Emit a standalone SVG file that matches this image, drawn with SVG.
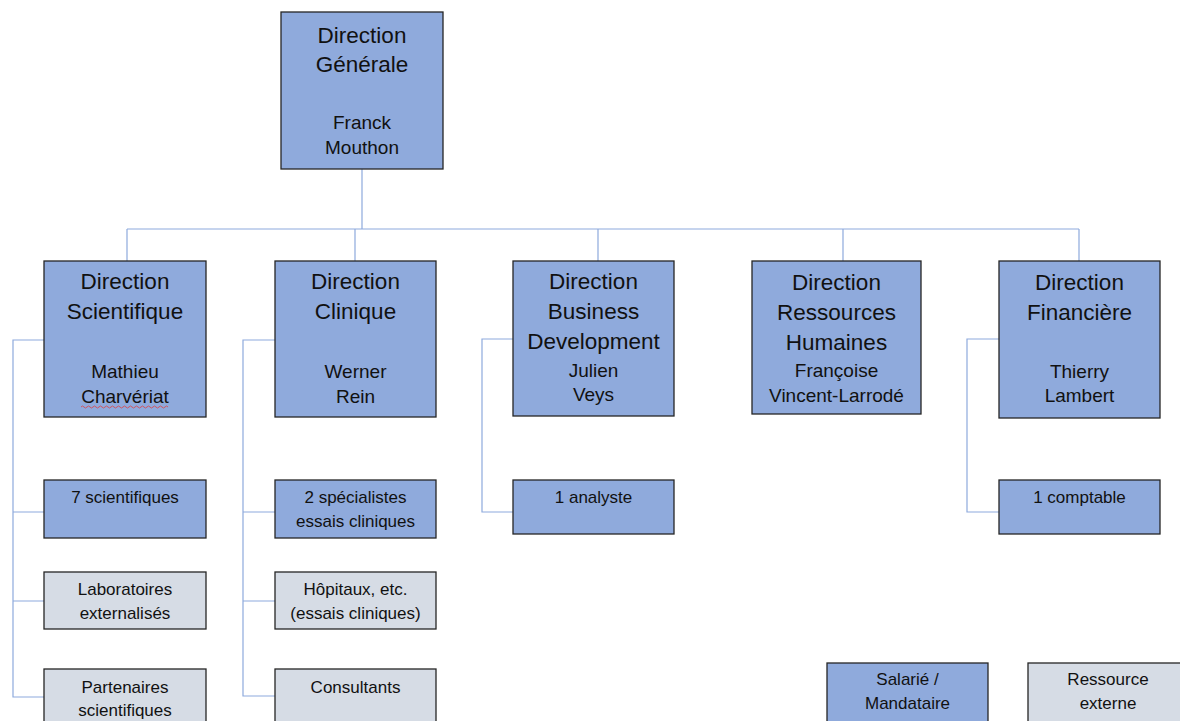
<svg xmlns="http://www.w3.org/2000/svg" width="1180" height="721" viewBox="0 0 1180 721">
<style>
.emp{fill:#8faadc;stroke:#262626;stroke-width:1.3}
.ext{fill:#d6dce5;stroke:#262626;stroke-width:1.3}
text{font-family:"Liberation Sans",Arial,sans-serif;fill:#111;text-anchor:middle}
.t{font-size:22.5px}
.n{font-size:19px}
.s{font-size:17px}
.c{fill:none;stroke:#8eaadd;stroke-width:1.2}
</style>
<rect width="1180" height="721" fill="#fff"/>
<g id="connectors" class="c">
<path d="M362 169V229M127 229H1079M127 229V261M355 229V261M598 229V261M843 229V261M1079 229V261"/>
<path d="M44 340H13V697H44M13 512H44M13 601H44"/>
<path d="M275 340H243V696H275M243 512H275M243 601H275"/>
<path d="M513 339H482V512H513"/>
<path d="M999 339H967V512H999"/>
</g>
<g id="dg"><rect class="emp" x="281" y="12" width="162" height="157"/>
<text class="t" x="362" y="43">Direction</text><text class="t" x="362" y="72">Générale</text>
<text class="n" x="362" y="129">Franck</text><text class="n" x="362" y="154">Mouthon</text></g>
<g id="ds"><rect class="emp" x="44" y="261" width="162" height="156"/>
<text class="t" x="125" y="289">Direction</text><text class="t" x="125" y="319">Scientifique</text>
<text class="n" x="125" y="378">Mathieu</text><text class="n" x="125" y="403">Charvériat</text>
<path d="M81 407q1.5-2 3 0t3 0t3 0t3 0t3 0t3 0t3 0t3 0t3 0t3 0t3 0t3 0t3 0t3 0t3 0t3 0t3 0t3 0t3 0t3 0t3 0t3 0t3 0t3 0t3 0t3 0t3 0t3 0t3 0" fill="none" stroke="#e04040" stroke-width="0.8"/></g>
<g id="dc"><rect class="emp" x="275" y="261" width="161" height="156"/>
<text class="t" x="355.5" y="289">Direction</text><text class="t" x="355.5" y="319">Clinique</text>
<text class="n" x="355.5" y="378">Werner</text><text class="n" x="355.5" y="403">Rein</text></g>
<g id="dbd"><rect class="emp" x="513" y="261" width="161" height="155"/>
<text class="t" x="593.5" y="289">Direction</text><text class="t" x="593.5" y="319">Business</text><text class="t" x="593.5" y="349">Development</text>
<text class="n" x="593.5" y="377">Julien</text><text class="n" x="593.5" y="401">Veys</text></g>
<g id="drh"><rect class="emp" x="752" y="261" width="169" height="153"/>
<text class="t" x="836.5" y="290">Direction</text><text class="t" x="836.5" y="320">Ressources</text><text class="t" x="836.5" y="350">Humaines</text>
<text class="n" x="836.5" y="377">Françoise</text><text class="n" x="836.5" y="402">Vincent-Larrodé</text></g>
<g id="df"><rect class="emp" x="999" y="261" width="161" height="157"/>
<text class="t" x="1079.5" y="290">Direction</text><text class="t" x="1079.5" y="320">Financière</text>
<text class="n" x="1079.5" y="378">Thierry</text><text class="n" x="1079.5" y="402">Lambert</text></g>
<g id="sci7"><rect class="emp" x="44" y="480" width="162" height="58"/><text class="s" x="125" y="503">7 scientifiques</text></g>
<g id="labo"><rect class="ext" x="44" y="572" width="162" height="57"/><text class="s" x="125" y="595">Laboratoires</text><text class="s" x="125" y="619">externalisés</text></g>
<g id="part"><rect class="ext" x="44" y="669" width="162" height="60"/><text class="s" x="125" y="693">Partenaires</text><text class="s" x="125" y="716">scientifiques</text></g>
<g id="spec"><rect class="emp" x="275" y="480" width="161" height="58"/><text class="s" x="355.5" y="503">2 spécialistes</text><text class="s" x="355.5" y="527">essais cliniques</text></g>
<g id="hop"><rect class="ext" x="275" y="572" width="161" height="57"/><text class="s" x="355.5" y="595">Hôpitaux, etc.</text><text class="s" x="355.5" y="619">(essais cliniques)</text></g>
<g id="cons"><rect class="ext" x="275" y="669" width="161" height="60"/><text class="s" x="355.5" y="693">Consultants</text></g>
<g id="ana"><rect class="emp" x="513" y="480" width="161" height="54"/><text class="s" x="593.5" y="503">1 analyste</text></g>
<g id="compt"><rect class="emp" x="999" y="480" width="161" height="54"/><text class="s" x="1079.5" y="503">1 comptable</text></g>
<g id="leg1"><rect class="emp" x="827" y="663" width="161" height="66"/><text class="s" x="907.5" y="685">Salarié /</text><text class="s" x="907.5" y="709">Mandataire</text></g>
<g id="leg2"><rect class="ext" x="1028" y="663" width="161" height="66"/><text class="s" x="1108" y="685">Ressource</text><text class="s" x="1108" y="709">externe</text></g>
</svg>
